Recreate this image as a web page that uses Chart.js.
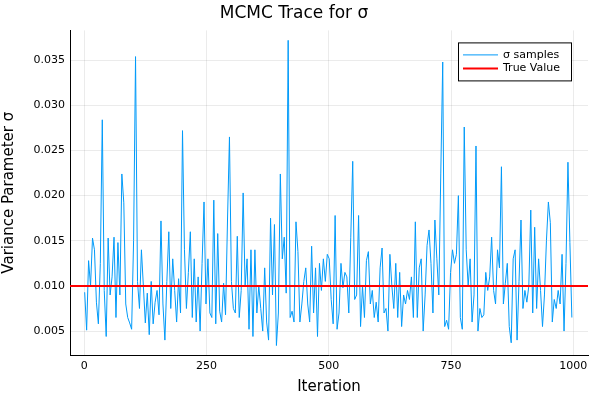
<!DOCTYPE html>
<html>
<head>
<meta charset="utf-8">
<script src="https://cdn.jsdelivr.net/npm/chart.js@4.4.1/dist/chart.umd.min.js"></script>
<style>
  html, body { margin: 0; padding: 0; background: #fff; }
  #wrap { width: 600px; height: 400px; }
</style>
</head>
<body>
<div id="wrap"><canvas id="traceChart" width="600" height="400"></canvas></div>
<script>
// sigma samples, read every 4th iteration (1, 5, 9, ... 997)
const sampleStep = 4;
const sigmaSamples = [
  0.0093, 0.0051, 0.0128, 0.0100, 0.0153, 0.0140, 0.0082, 0.0058, 0.0125, 0.0284,
  0.0095, 0.0044, 0.0153, 0.0090, 0.0110, 0.0154, 0.0065, 0.0148, 0.0090, 0.0224,
  0.0192, 0.0080, 0.0065, 0.0059, 0.0052, 0.0150, 0.0354, 0.0105, 0.0075, 0.0140,
  // 121 - 245
  0.0100, 0.0059, 0.0092, 0.0046, 0.0105, 0.0058, 0.0082, 0.0095, 0.0068, 0.0172,
  0.0080, 0.0040, 0.0105, 0.0160, 0.0075, 0.0130, 0.0095, 0.0060, 0.0108, 0.0070,
  0.0272, 0.0140, 0.0075, 0.0115, 0.0160, 0.0065, 0.0130, 0.0060, 0.0110, 0.0050,
  0.0125, 0.0193,
  // 249 - 373
  0.0080, 0.0130, 0.0070, 0.0065, 0.0195, 0.0058, 0.0158, 0.0072, 0.0060, 0.0103,
  0.0068, 0.0173, 0.0265, 0.0105, 0.0075, 0.0070, 0.0155, 0.0065, 0.0095, 0.0203,
  0.0100, 0.0130, 0.0052, 0.0140, 0.0044, 0.0140, 0.0070, 0.0100, 0.0075, 0.0050,
  0.0120, 0.0060,
  // 377 - 497
  0.0040, 0.0175, 0.0090, 0.0168, 0.0034, 0.0070, 0.0224, 0.0130, 0.0154, 0.0092,
  0.0372, 0.0065, 0.0072, 0.0060, 0.0171, 0.0138, 0.0060, 0.0080, 0.0105, 0.0120,
  0.0080, 0.0060, 0.0144, 0.0070, 0.0120, 0.0044, 0.0125, 0.0095, 0.0130, 0.0105,
  0.0135,
  // 501 - 625
  0.0130, 0.0085, 0.0058, 0.0178, 0.0052, 0.0070, 0.0125, 0.0098, 0.0115, 0.0110,
  0.0070, 0.0154, 0.0238, 0.0085, 0.0090, 0.0178, 0.0055, 0.0100, 0.0065, 0.0128,
  0.0138, 0.0080, 0.0095, 0.0065, 0.0082, 0.0060, 0.0120, 0.0142, 0.0070, 0.0075,
  0.0050, 0.0135,
  // 629 - 753
  0.0100, 0.0075, 0.0125, 0.0065, 0.0115, 0.0055, 0.0090, 0.0080, 0.0095, 0.0085,
  0.0110, 0.0065, 0.0171, 0.0065, 0.0120, 0.0130, 0.0050, 0.0090, 0.0145, 0.0162,
  0.0125, 0.0070, 0.0173, 0.0130, 0.0090, 0.0224, 0.0348, 0.0055, 0.0062, 0.0052,
  0.0115, 0.0140,
  // 757 - 881
  0.0125, 0.0135, 0.0200, 0.0065, 0.0052, 0.0276, 0.0140, 0.0100, 0.0130, 0.0060,
  0.0090, 0.0255, 0.0050, 0.0075, 0.0065, 0.0068, 0.0115, 0.0095, 0.0110, 0.0154,
  0.0095, 0.0080, 0.0140, 0.0120, 0.0232, 0.0080, 0.0103, 0.0125, 0.0055, 0.0037,
  0.0130, 0.0140,
  // 885 - 997
  0.0040, 0.0105, 0.0173, 0.0075, 0.0095, 0.0082, 0.0100, 0.0184, 0.0070, 0.0165,
  0.0075, 0.0130, 0.0095, 0.0055, 0.0090, 0.0150, 0.0193, 0.0170, 0.0060, 0.0085,
  0.0075, 0.0095, 0.0080, 0.0135, 0.0050, 0.0125, 0.0237, 0.0148, 0.0065
];
const trueSigma = 0.010;

const xTicks = [0, 250, 500, 750, 1000];
const yTicks = [0.005, 0.010, 0.015, 0.020, 0.025, 0.030, 0.035];
const xRange = [-29, 1030];
const yRange = [0.00235, 0.0383];

const traceData = sigmaSamples.map((v, i) => ({ x: 1 + i * sampleStep, y: v }));
const trueData = [{ x: xRange[0], y: trueSigma }, { x: xRange[1], y: trueSigma }];

const fontFamily = "'DejaVu Sans', sans-serif";

// legend box in the top right, drawn like the Plots.jl one
const boxLegend = {
    id: "boxLegend",
    afterDraw(chart) {
        const ctx = chart.ctx;
        const area = chart.chartArea;
        const w = 113, h = 38;
        const x = area.right - w - 17, y = area.top + 12;
        ctx.save();
        ctx.fillStyle = "#fff";
        ctx.fillRect(x, y, w, h);
        ctx.strokeStyle = "#000";
        ctx.lineWidth = 1;
        ctx.strokeRect(x + 0.5, y + 0.5, w, h);
        ctx.font = "11px " + fontFamily;
        ctx.textBaseline = "middle";
        chart.data.datasets.forEach((ds, i) => {
            const ly = y + 12.5 + i * 13.5;
            ctx.strokeStyle = ds.borderColor;
            ctx.lineWidth = ds.borderWidth;
            ctx.beginPath();
            ctx.moveTo(x + 5, ly);
            ctx.lineTo(x + 40, ly);
            ctx.stroke();
            ctx.fillStyle = "#000";
            ctx.fillText(ds.label, x + 45, ly);
        });
        ctx.restore();
    },
};

const ctx = document.getElementById("traceChart").getContext("2d");

new Chart(ctx, {
    type: "line",
    data: {
        datasets: [
            {
                label: "σ samples",
                data: traceData,
                borderColor: "#009af9",
                borderWidth: 1,
                pointRadius: 0,
                fill: false,
                order: 2,
            },
            {
                label: "True Value",
                data: trueData,
                borderColor: "#ff0000",
                borderWidth: 2,
                pointRadius: 0,
                fill: false,
                order: 1,
            },
        ],
    },
    options: {
        responsive: false,
        animation: false,
        devicePixelRatio: 1,
        layout: {
            padding: { left: 0, right: 12, top: 0, bottom: 0 },
        },
        scales: {
            x: {
                type: "linear",
                min: xRange[0],
                max: xRange[1],
                afterBuildTicks: (axis) => {
                    axis.ticks = xTicks.map((v) => ({ value: v }));
                },
                afterFit: (axis) => {
                    axis.height = 45;
                },
                grid: { color: "rgba(0,0,0,0.08)", drawTicks: false },
                border: { color: "#000", width: 1 },
                ticks: {
                    color: "#000",
                    padding: 5,
                    maxRotation: 0,
                    font: { family: fontFamily, size: 11 },
                    callback: function (value) {
                        return String(value);
                    },
                },
                title: {
                    display: true,
                    text: "Iteration",
                    color: "#000",
                    padding: { top: 0, bottom: 4 },
                    font: { family: fontFamily, size: 15 },
                },
            },
            y: {
                min: yRange[0],
                max: yRange[1],
                afterBuildTicks: (axis) => {
                    axis.ticks = yTicks.map((v) => ({ value: v }));
                },
                afterFit: (axis) => {
                    axis.width = 70;
                },
                grid: { color: "rgba(0,0,0,0.08)", drawTicks: false },
                border: { color: "#000", width: 1 },
                ticks: {
                    color: "#000",
                    padding: 5,
                    font: { family: fontFamily, size: 11 },
                    callback: function (value) {
                        return value.toFixed(3);
                    },
                },
                title: {
                    display: true,
                    text: "Variance Parameter σ",
                    color: "#000",
                    padding: { top: 0, bottom: 2 },
                    font: { family: fontFamily, size: 15 },
                },
            },
        },
        plugins: {
            legend: { display: false },
            tooltip: { enabled: false },
            title: {
                display: true,
                text: "MCMC Trace for σ",
                color: "#000",
                padding: { top: 3, bottom: 7 },
                font: { family: fontFamily, size: 17, weight: "normal" },
            },
        },
    },
    plugins: [boxLegend],
});
</script>
</body>
</html>
